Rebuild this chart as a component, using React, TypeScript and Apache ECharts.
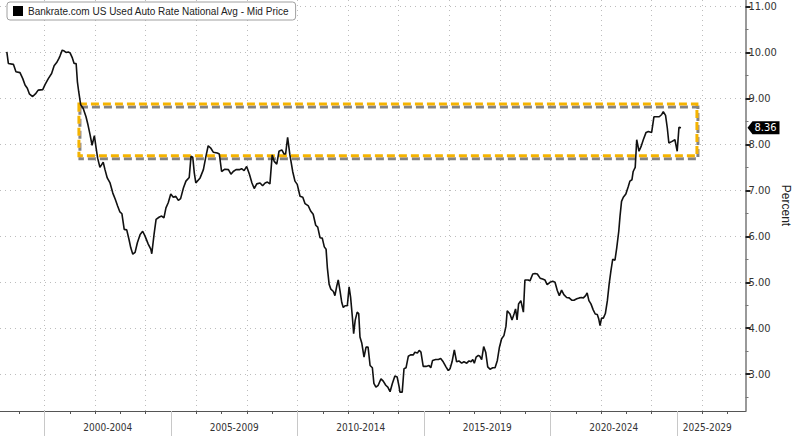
import { useEffect, useRef } from 'react';
import * as echarts from 'echarts';

const seriesName = 'Bankrate.com US Used Auto Rate National Avg - Mid Price';

// [decimal year, rate %]
const rates1998to2004: [number, number][] = [
  [1998.51, 10.01], [1998.57, 9.76], [1998.77, 9.74], [1998.87, 9.58], [1999.03, 9.56], [1999.14, 9.43],
  [1999.23, 9.29], [1999.32, 9.22], [1999.4, 9.1], [1999.53, 9.04], [1999.66, 9.11], [1999.75, 9.18],
  [1999.93, 9.19], [2000.02, 9.3], [2000.15, 9.43], [2000.28, 9.54], [2000.38, 9.71], [2000.48, 9.78],
  [2000.57, 9.87], [2000.61, 9.92], [2000.7, 10.05], [2000.78, 10.03], [2000.85, 10.0], [2000.94, 10.01],
  [2001.01, 9.99], [2001.1, 9.88], [2001.17, 9.76], [2001.25, 9.76], [2001.3, 9.36], [2001.35, 9.15],
  [2001.43, 8.86], [2001.53, 8.78], [2001.64, 8.6], [2001.72, 8.42], [2001.8, 8.21], [2001.88, 7.98],
  [2001.97, 8.19], [2002.04, 7.92], [2002.1, 7.7], [2002.19, 7.5], [2002.26, 7.56], [2002.32, 7.61],
  [2002.39, 7.45], [2002.48, 7.27], [2002.59, 7.16], [2002.7, 6.94], [2002.8, 6.8], [2002.89, 6.66],
  [2002.98, 6.53], [2003.06, 6.49], [2003.15, 6.15], [2003.25, 6.14], [2003.34, 5.93], [2003.41, 5.75],
  [2003.49, 5.61], [2003.58, 5.65], [2003.67, 5.86], [2003.78, 6.04], [2003.88, 6.11], [2003.97, 6.01],
];

const rates2004to2010: [number, number][] = [
  [2004.1, 5.83], [2004.2, 5.72], [2004.24, 5.62], [2004.33, 6.04], [2004.41, 6.37], [2004.54, 6.42],
  [2004.63, 6.44], [2004.72, 6.4], [2004.8, 6.62], [2004.89, 6.73], [2004.99, 6.92], [2005.09, 6.85],
  [2005.19, 6.87], [2005.29, 6.78], [2005.38, 6.82], [2005.49, 7.05], [2005.59, 7.2], [2005.72, 7.28],
  [2005.79, 7.74], [2005.86, 7.72], [2005.92, 7.38], [2005.98, 7.16], [2006.15, 7.27], [2006.28, 7.45],
  [2006.38, 7.74], [2006.47, 7.97], [2006.57, 7.92], [2006.67, 7.83], [2006.83, 7.81], [2006.91, 7.79],
  [2007.0, 7.41], [2007.13, 7.46], [2007.27, 7.45], [2007.37, 7.35], [2007.46, 7.41], [2007.57, 7.45],
  [2007.7, 7.45], [2007.79, 7.47], [2007.89, 7.43], [2007.99, 7.52], [2008.1, 7.35], [2008.2, 7.16],
  [2008.29, 7.04], [2008.39, 7.14], [2008.52, 7.16], [2008.62, 7.1], [2008.72, 7.16], [2008.81, 7.18],
  [2008.91, 7.14], [2009.0, 7.77], [2009.08, 7.63], [2009.18, 7.57], [2009.27, 7.85], [2009.38, 7.88],
  [2009.47, 7.79], [2009.53, 7.79], [2009.61, 8.15], [2009.7, 7.77], [2009.81, 7.41], [2009.9, 7.2],
  [2009.99, 7.13],
];

const rates2010to2016: [number, number][] = [
  [2010.1, 6.87], [2010.21, 6.85], [2010.3, 6.71], [2010.43, 6.66], [2010.52, 6.55], [2010.62, 6.48],
  [2010.72, 6.24], [2010.8, 6.2], [2010.89, 5.97], [2010.98, 5.96], [2011.06, 5.77], [2011.13, 5.72],
  [2011.18, 5.32], [2011.25, 4.96], [2011.32, 4.85], [2011.42, 4.8], [2011.48, 4.71], [2011.55, 4.91],
  [2011.61, 5.05], [2011.68, 4.82], [2011.75, 4.56], [2011.81, 4.45], [2011.88, 4.49], [2011.97, 4.49],
  [2012.04, 4.9], [2012.1, 4.67], [2012.17, 4.24], [2012.22, 3.88], [2012.28, 4.17], [2012.36, 4.35],
  [2012.42, 4.32], [2012.47, 3.81], [2012.54, 3.68], [2012.63, 3.37], [2012.71, 3.59], [2012.79, 3.59],
  [2012.87, 3.19], [2012.96, 3.14], [2013.02, 2.8], [2013.1, 2.72], [2013.19, 2.76], [2013.3, 2.9],
  [2013.39, 2.85], [2013.49, 2.76], [2013.57, 2.72], [2013.66, 2.62], [2013.75, 2.8], [2013.85, 2.96],
  [2013.94, 2.94], [2014.02, 2.72], [2014.05, 2.61], [2014.14, 2.61], [2014.21, 3.12], [2014.29, 3.14],
  [2014.38, 3.39], [2014.47, 3.42], [2014.58, 3.42], [2014.64, 3.48], [2014.74, 3.46], [2014.81, 3.52],
  [2014.88, 3.48], [2014.97, 3.17], [2015.08, 3.17], [2015.2, 3.19], [2015.27, 3.14], [2015.34, 3.3],
  [2015.46, 3.32], [2015.57, 3.32], [2015.66, 3.34], [2015.76, 3.27], [2015.87, 3.16], [2015.96, 3.08],
];

const rates2016to2022: [number, number][] = [
  [2016.03, 3.12], [2016.11, 3.27], [2016.2, 3.53], [2016.29, 3.27], [2016.38, 3.29], [2016.49, 3.24],
  [2016.58, 3.27], [2016.69, 3.24], [2016.78, 3.29], [2016.86, 3.27], [2016.93, 3.32], [2016.99, 3.24],
  [2017.06, 3.37], [2017.15, 3.41], [2017.21, 3.39], [2017.28, 3.32], [2017.36, 3.6], [2017.44, 3.48],
  [2017.52, 3.16], [2017.61, 3.11], [2017.72, 3.14], [2017.81, 3.14], [2017.9, 3.3], [2017.98, 3.58],
  [2018.07, 3.77], [2018.16, 3.84], [2018.24, 4.04], [2018.29, 4.38], [2018.4, 4.31], [2018.48, 4.18],
  [2018.56, 4.31], [2018.62, 4.42], [2018.68, 4.18], [2018.74, 4.53], [2018.83, 4.6], [2018.93, 4.35],
  [2018.99, 5.05], [2019.12, 5.05], [2019.19, 5.03], [2019.3, 5.18], [2019.39, 5.19], [2019.48, 5.18],
  [2019.59, 5.09], [2019.69, 5.07], [2019.78, 5.05], [2019.87, 4.95], [2019.98, 5.0], [2020.09, 5.02],
  [2020.18, 5.0], [2020.27, 4.82], [2020.35, 4.71], [2020.44, 4.83], [2020.53, 4.73], [2020.64, 4.67],
  [2020.74, 4.66], [2020.84, 4.61], [2020.93, 4.61], [2021.04, 4.64], [2021.14, 4.66], [2021.23, 4.67],
  [2021.3, 4.66], [2021.39, 4.71], [2021.45, 4.77], [2021.52, 4.6], [2021.6, 4.53], [2021.69, 4.4],
  [2021.77, 4.31], [2021.85, 4.3], [2021.91, 4.2], [2021.96, 4.06],
];

const rates2022to2025: [number, number][] = [
  [2022.02, 4.22], [2022.09, 4.22], [2022.17, 4.32], [2022.25, 4.6], [2022.32, 4.96], [2022.39, 5.25],
  [2022.46, 5.5], [2022.55, 5.48], [2022.62, 5.75], [2022.7, 6.11], [2022.75, 6.44], [2022.81, 6.76],
  [2022.88, 6.85], [2022.98, 6.92], [2023.08, 7.09], [2023.14, 7.2], [2023.22, 7.23], [2023.27, 7.41],
  [2023.35, 7.5], [2023.41, 8.1], [2023.5, 7.85], [2023.58, 7.95], [2023.67, 8.1], [2023.78, 8.26],
  [2023.87, 8.28], [2024.0, 8.26], [2024.09, 8.6], [2024.2, 8.6], [2024.3, 8.6], [2024.4, 8.65],
  [2024.46, 8.71], [2024.55, 8.63], [2024.62, 8.35], [2024.68, 8.03], [2024.79, 8.06], [2024.92, 8.1],
  [2025.01, 7.85], [2025.08, 8.37], [2025.16, 8.36],
];

const gridYears = [2000, 2002, 2004, 2006, 2008, 2010, 2012, 2014, 2016, 2018, 2020, 2022, 2024, 2026];
const tickYears = [
  1999, 2000, 2001, 2002, 2003, 2004, 2005, 2006, 2007, 2008, 2009, 2010, 2011, 2012,
  2013, 2014, 2015, 2016, 2017, 2018, 2019, 2020, 2021, 2022, 2023, 2024, 2025, 2026, 2027,
];
const bandStarts = [2000, 2005, 2010, 2015, 2020, 2025];
const bandLabels = ['2000-2004', '2005-2009', '2010-2014', '2015-2019', '2020-2024', '2025-2029'];
const bandLabelPos = [2002.5, 2007.5, 2012.5, 2017.5, 2022.5, 2026.2];
const yMajorTicks = [3, 4, 5, 6, 7, 8, 9, 10, 11];
const yMinorTicks = [2.5, 3.5, 4.5, 5.5, 6.5, 7.5, 8.5, 9.5, 10.5];
const highlightYears = [2001.36, 2025.79];
const highlightRates = [7.75, 8.88];

const X_MIN = 1998.24;
const X_MAX = 2027.71;
const Y_MIN = 2.2;
const Y_MAX = 11.14;

const condFont = '"DejaVu Sans Condensed", "Liberation Sans", sans-serif';

export default function App() {
  const ref = useRef<HTMLDivElement>(null);

  useEffect(() => {
    if (!ref.current) return;
    const chart = echarts.init(ref.current, undefined, { renderer: 'svg' });
    const allRates = [
      ...rates1998to2004,
      ...rates2004to2010,
      ...rates2010to2016,
      ...rates2016to2022,
      ...rates2022to2025,
    ];
    const last = allRates[allRates.length - 1];

    const baseX = {
      type: 'value' as const,
      min: X_MIN,
      max: X_MAX,
      position: 'bottom' as const,
      gridIndex: 0,
    };
    const baseY = {
      type: 'value' as const,
      min: Y_MIN,
      max: Y_MAX,
      position: 'right' as const,
      gridIndex: 0,
    };

    chart.setOption({
      animation: false,
      backgroundColor: '#ffffff',
      grid: { left: 0, right: 54.5, top: 0, bottom: 25, containLabel: false, outerBoundsMode: 'none' },
      legend: {
        left: 7,
        top: 2,
        icon: 'rect',
        itemWidth: 10,
        itemHeight: 10,
        itemGap: 5,
        padding: [4, 6, 4, 6],
        borderColor: '#a0a0a0',
        borderWidth: 1,
        borderRadius: 3,
        backgroundColor: '#ffffff',
        textStyle: { fontFamily: '"Liberation Sans", sans-serif', fontSize: 10, color: '#222' },
        data: [seriesName],
        selectedMode: false,
      },
      xAxis: [
        {
          ...baseX,
          axisLine: { show: false },
          axisTick: { show: false, customValues: gridYears },
          axisLabel: { show: false },
          splitLine: { show: true, lineStyle: { color: '#bdbdbd', type: [1, 4], width: 1 } },
        },
        {
          ...baseX,
          axisLine: { show: true, lineStyle: { color: '#555', width: 1 } },
          axisTick: { show: true, customValues: tickYears, length: 3, lineStyle: { color: '#555' } },
          axisLabel: { show: false },
          splitLine: { show: false },
        },
        {
          ...baseX,
          axisLine: { show: false },
          axisTick: { show: true, customValues: bandStarts, length: 26, lineStyle: { color: '#c8c8c8', width: 1 } },
          axisLabel: {
            show: true,
            customValues: bandLabelPos,
            margin: 11,
            fontFamily: condFont,
            fontSize: 10,
            color: '#333',
            formatter: (v: number) => {
              const i = bandLabelPos.findIndex((p) => Math.abs(p - v) < 1e-6);
              return i >= 0 ? bandLabels[i] : '';
            },
          },
          splitLine: { show: false },
        },
      ],
      yAxis: [
        {
          ...baseY,
          name: 'Percent',
          nameLocation: 'middle',
          nameRotate: -90,
          nameGap: 34,
          nameMoveOverlap: false,
          nameTextStyle: { fontFamily: '"Liberation Sans", sans-serif', fontSize: 12, color: '#222' },
          axisLine: { show: true, lineStyle: { color: '#999', width: 2 } },
          axisTick: { show: true, customValues: yMajorTicks, length: 5, lineStyle: { color: '#222', width: 2 } },
          axisLabel: {
            show: true,
            customValues: yMajorTicks,
            margin: 3,
            fontFamily: condFont,
            fontSize: 11,
            lineHeight: 11,
            color: '#333',
            formatter: (v: number) => v.toFixed(2),
          },
          splitLine: { show: true, lineStyle: { color: '#bdbdbd', type: [1, 4], width: 1 } },
        },
        {
          ...baseY,
          axisLine: { show: false },
          axisTick: { show: true, customValues: yMinorTicks, length: 3, lineStyle: { color: '#777', width: 1 } },
          axisLabel: { show: false },
          splitLine: { show: false },
        },
      ],
      series: [
        {
          name: seriesName,
          type: 'line',
          xAxisIndex: 0,
          yAxisIndex: 0,
          data: allRates,
          showSymbol: false,
          symbol: 'none',
          lineStyle: { color: '#111111', width: 1.6 },
          itemStyle: { color: '#000000' },
          silent: true,
          markArea: {
            silent: true,
            itemStyle: {
              color: 'rgba(0,0,0,0)',
              borderColor: '#f5b400',
              borderWidth: 3,
              borderType: [8, 4],
              shadowColor: 'rgba(90,90,90,0.75)',
              shadowOffsetX: 1,
              shadowOffsetY: 3,
              shadowBlur: 1,
            },
            emphasis: { disabled: true },
            data: [
              [
                { xAxis: highlightYears[0], yAxis: highlightRates[1] },
                { xAxis: highlightYears[1], yAxis: highlightRates[0] },
              ],
            ],
          },
          markPoint: {
            silent: true,
            symbol: 'path://M0,6 L5,0 L32,0 L32,12 L5,12 Z',
            symbolSize: [32, 13],
            symbolKeepAspect: false,
            symbolOffset: [18, 0],
            itemStyle: { color: '#000000' },
            label: {
              show: true,
              position: 'inside',
              offset: [2, 0],
              color: '#ffffff',
              fontFamily: condFont,
              fontSize: 11,
              formatter: () => last[1].toFixed(2),
            },
            data: [{ coord: [X_MAX, last[1]] }],
          },
        },
      ],
    });

    return () => {
      chart.dispose();
    };
  }, []);

  return (
    <div
      ref={ref}
      style={{ position: 'absolute', left: 0, top: 0, width: 800, height: 436 }}
    />
  );
}
